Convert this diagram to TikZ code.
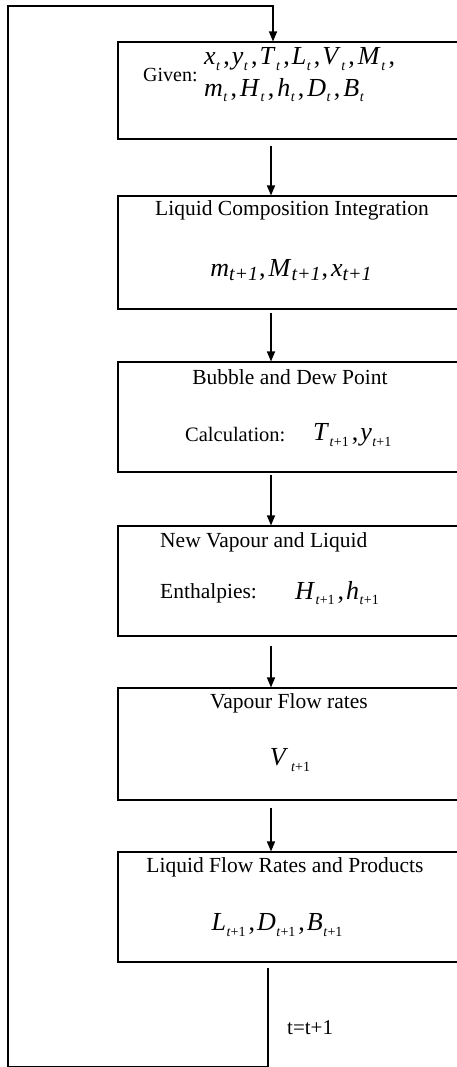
\documentclass[tikz,border=0pt]{standalone}
\usepackage{fontspec}
\setmainfont{Liberation Serif}
\usetikzlibrary{arrows.meta}

% italic variable with a small lowered index
\newcommand{\vsub}[2]{\textit{#1}\kern0.5pt\raisebox{-0.45ex}{\fontsize{14}{14}\selectfont #2}}
\newcommand{\ti}{\textit{t}}
\newcommand{\tn}{\textit{t}+1}
\newcommand{\sep}{\kern3pt,\kern2pt}
\newcommand{\bigsub}[1]{\textit{#1}\raisebox{-0.3ex}{\fontsize{20}{20}\selectfont\textit{t+1}}}

\begin{document}
\begin{tikzpicture}[x=1pt,y=-1pt]
	\tikzstyle{step box}=[draw,black,line width=1.1pt,minimum width=344pt,inner sep=0pt]
	\tikzstyle{txt}=[inner sep=0pt,font=\fontsize{21.5}{25}\selectfont]
	\tikzstyle{var}=[inner sep=0pt,font=\fontsize{26}{30}\selectfont]
	\tikzstyle{flow}=[-{Triangle[length=10pt,width=8pt]},black,line width=1.4pt]

	\useasboundingbox (0,0) rectangle (456,1067);

	% boxes
	\node[step box,minimum height=97pt]  (s1) at (290,90.5) {};
	\node[step box,minimum height=113pt] (s2) at (290,252.5) {};
	\node[step box,minimum height=110pt] (s3) at (290,417) {};
	\node[step box,minimum height=110pt] (s4) at (290,581) {};
	\node[step box,minimum height=112pt] (s5) at (290,744) {};
	\node[step box,minimum height=110pt] (s6) at (290,907) {};

	% texts
	\node[txt,font=\fontsize{20}{24}\selectfont,anchor=west] (given) at (143,75) {Given:};
	\node[var,anchor=west] (given a) at (204,59) {\vsub{x}{\ti}\sep\vsub{y}{\ti}\sep\vsub{T}{\ti}\sep\vsub{L}{\ti}\sep\vsub{V}{\ti}\sep\kern1pt\vsub{M}{\ti}\sep};
	\node[var,anchor=west] (given b) at (204,90) {\vsub{m}{\ti}\sep\kern1pt\vsub{H}{\ti}\sep\kern1pt\vsub{h}{\ti}\sep\kern1pt\vsub{D}{\ti}\sep\kern1pt\vsub{B}{\ti}};

	\node[txt] (lci) at (292,210) {Liquid Composition Integration};
	\node[var] (lci v) at (291,270) {\bigsub{m}\kern1pt,\kern3pt\bigsub{M}\kern1pt,\kern3pt\bigsub{x}};

	\node[txt] (bdp) at (290,377) {Bubble and Dew Point};
	\node[txt,font=\fontsize{20.5}{24}\selectfont,anchor=west] (bdp c) at (185,435) {Calculation:};
	\node[var,anchor=west] (bdp v) at (313,435) {\vsub{T}{\tn}\sep\vsub{y}{\tn}};

	\node[txt,anchor=west] (enth) at (160,542) {New Vapour and Liquid};
	\node[txt,anchor=west] (enth c) at (160,593) {Enthalpies:};
	\node[var,anchor=west] (enth v) at (295,593) {\vsub{H}{\tn}\sep\vsub{h}{\tn}};

	\node[txt] (vfr) at (289,703) {Vapour Flow rates};
	\node[var] (vfr v) at (290,760) {\vsub{V}{\,\tn}};

	\node[txt] (lfr) at (285,867) {Liquid Flow Rates and Products};
	\node[var] (lfr v) at (277,925) {\vsub{L}{\tn}\sep\vsub{D}{\tn}\sep\vsub{B}{\tn}};

	\node[txt,font=\fontsize{21}{25}\selectfont,anchor=west] (inc) at (287,1028) {t=t+1};

	% connectors
	\coordinate (ax) at (271,0);
	\coordinate (top) at (273,0);
	\coordinate (bot) at (268,1066.5);
	\coordinate (corner) at (8,6);

	\draw[flow] ([yshift=-6pt]s1.south -| ax) -- (s2.north -| ax);
	\draw[flow] ([yshift=-3pt]s2.south -| ax) -- (s3.north -| ax);
	\draw[flow] ([yshift=-2pt]s3.south -| ax) -- (s4.north -| ax);
	\draw[flow] ([yshift=-9pt]s4.south -| ax) -- (s5.north -| ax);
	\draw[flow] ([yshift=-7pt]s5.south -| ax) -- (s6.north -| ax);
	\draw[flow] ([yshift=-5pt]s6.south -| bot) -- (bot) -| (corner) -| (s1.north -| top);
\end{tikzpicture}
\end{document}
